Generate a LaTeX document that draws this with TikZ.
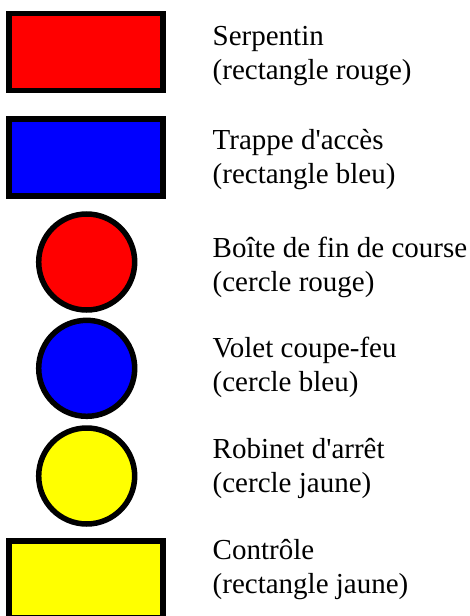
\documentclass[tikz,border=0pt]{standalone}
\usepackage{fontspec}
\setmainfont{Liberation Serif}
\newfontfamily\lserif{Liberation Serif}
\definecolor{cred}{RGB}{255,0,0}
\definecolor{cblue}{RGB}{0,0,255}
\definecolor{cyellow}{RGB}{255,255,0}
\tikzset{
  shapebox/.style={draw=black, line width=5.5pt},
  lbl/.style={anchor=base west, inner sep=0pt, font=\lserif\fontsize{29}{33}\selectfont}
}
\begin{document}
\begin{tikzpicture}[x=1pt,y=-1pt]
\useasboundingbox (0,0) rectangle (469,616);
% shapes
\draw[shapebox, fill=cred] (9,13.5) rectangle (163,90.5);
\draw[shapebox, fill=cblue] (9,119) rectangle (163,196);
\draw[shapebox, fill=cred] (86.7,262) circle[radius=48];
\draw[shapebox, fill=cblue] (86.7,368.3) circle[radius=48];
\draw[shapebox, fill=cyellow] (86.7,476) circle[radius=48];
\draw[shapebox, fill=cyellow] (9,541) rectangle (163,618);
% labels
\node[lbl] (l1a) at (212.5,45) {Serpentin};
\node[lbl] (l1b) at (212.5,79) {(rectangle rouge)};
\node[lbl] (l2a) at (212.5,149) {Trappe d'accès};
\node[lbl] (l2b) at (212.5,183) {(rectangle bleu)};
\node[lbl] (l3a) at (212.5,257) {Boîte de fin de course};
\node[lbl] (l3b) at (212.5,291) {(cercle rouge)};
\node[lbl] (l4a) at (212.5,357) {Volet coupe-feu};
\node[lbl] (l4b) at (212.5,391) {(cercle bleu)};
\node[lbl] (l5a) at (212.5,458) {Robinet d'arrêt};
\node[lbl] (l5b) at (212.5,492) {(cercle jaune)};
\node[lbl] (l6a) at (212.5,559) {Contrôle};
\node[lbl] (l6b) at (212.5,593) {(rectangle jaune)};
\end{tikzpicture}
\end{document}
